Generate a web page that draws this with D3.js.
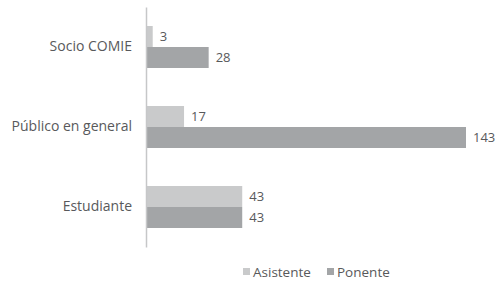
<!DOCTYPE html>
<html>
<head>
<meta charset="utf-8">
<script src="https://cdn.jsdelivr.net/npm/d3@7"></script>
<style>
  body { margin: 0; background: #fff; }
  text { font-family: "Open Sans", sans-serif; fill: #58595b; }
</style>
</head>
<body>
<div id="chart"></div>
<script>
// data
const categories = ["Socio COMIE", "Público en general", "Estudiante"];
const seriesNames = ["Asistente", "Ponente"];
const asistente = [3, 17, 43];
const ponente = [28, 143, 43];

const colors = { "Asistente": "#c9cacb", "Ponente": "#a3a5a7" };

const width = 504, height = 284;
const margin = { left: 146, top: 7, bottom: 37 };

const svg = d3.select("#chart").append("svg")
    .attr("width", width)
    .attr("height", height);

// scales
const x = d3.scaleLinear()
    .domain([0, 143])
    .range([margin.left, 466]);

const y = d3.scaleBand()
    .domain(categories)
    .range([margin.top, height - margin.bottom])
    .paddingInner(0.475)
    .paddingOuter(0.2375);

const ySub = d3.scaleBand()
    .domain(seriesNames)
    .range([0, y.bandwidth()]);

const rows = categories.map((c, i) => ({
    cat: c,
    values: [
        { key: "Asistente", value: asistente[i] },
        { key: "Ponente", value: ponente[i] }
    ]
}));

const groups = svg.selectAll(".group")
    .data(rows)
    .enter().append("g")
    .attr("class", "group")
    .attr("transform", d => "translate(0," + y(d.cat) + ")");

groups.selectAll("rect")
    .data(d => d.values)
    .enter().append("rect")
    .attr("x", x(0))
    .attr("y", d => ySub(d.key))
    .attr("width", d => x(d.value) - x(0))
    .attr("height", ySub.bandwidth())
    .attr("fill", d => colors[d.key]);

groups.selectAll(".val")
    .data(d => d.values)
    .enter().append("text")
    .attr("class", "val")
    .attr("x", d => x(d.value) + 7)
    .attr("y", d => ySub(d.key) + ySub.bandwidth() / 2)
    .attr("dy", "0.35em")
    .style("font-size", "13px")
    .text(d => d.value);

// y axis
const yAxis = d3.axisLeft(y).tickSize(0).tickPadding(14);
const gy = svg.append("g")
    .attr("transform", "translate(" + margin.left + ",0)")
    .call(yAxis);
gy.select(".domain").attr("stroke", "#c6c7c8").attr("stroke-width", 1.5);
gy.selectAll("text")
    .style("font-size", "14px")
    .style("fill", "#58595b")
    .style("font-family", "'Open Sans', sans-serif");

// legend
const legendX = [243, 327];
const legend = svg.selectAll(".legend")
    .data(seriesNames)
    .enter().append("g")
    .attr("class", "legend")
    .attr("transform", (d, i) => "translate(" + legendX[i] + ",272)");

legend.append("rect")
    .attr("x", 0)
    .attr("y", -4)
    .attr("width", 7)
    .attr("height", 7)
    .attr("fill", d => colors[d]);

legend.append("text")
    .attr("x", 10)
    .attr("dy", "0.35em")
    .style("font-size", "13.5px")
    .text(d => d);
</script>
</body>
</html>
